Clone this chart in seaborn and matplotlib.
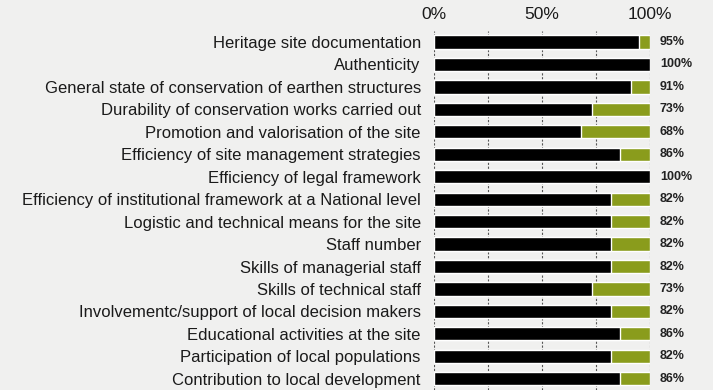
import matplotlib
matplotlib.use("Agg")
import matplotlib.pyplot as plt
import seaborn as sns
import pandas as pd

categories = [
    "Heritage site documentation",
    "Authenticity",
    "General state of conservation of earthen structures",
    "Durability of conservation works carried out",
    "Promotion and valorisation of the site",
    "Efficiency of site management strategies",
    "Efficiency of legal framework",
    "Efficiency of institutional framework at a National level",
    "Logistic and technical means for the site",
    "Staff number",
    "Skills of managerial staff",
    "Skills of technical staff",
    "Involvementc/support of local decision makers",
    "Educational activities at the site",
    "Participation of local populations",
    "Contribution to local development",
]
positive = [95, 100, 91, 73, 68, 86, 100, 82, 82, 82, 82, 73, 82, 86, 82, 86]
total = [100] * len(categories)
tick_values = [0, 50, 100]
tick_labels = ["0%", "50%", "100%"]

bg = "#f0f0ef"
green = "#8a9c1c"

sns.set_theme(style="white")
plt.rcParams["font.family"] = ["Liberation Sans", "DejaVu Sans"]

df = pd.DataFrame({"category": categories, "positive": positive, "total": total})

fig = plt.figure(figsize=(7.13, 3.90), dpi=100, facecolor=bg)
ax = fig.add_axes([0.6087, 0.0, 0.3030, 0.921])
ax.set_facecolor(bg)

sns.barplot(data=df, x="total", y="category", orient="h", color=green,
            width=0.59, ax=ax, saturation=1)
sns.barplot(data=df, x="positive", y="category", orient="h", color="black",
            width=0.59, ax=ax, saturation=1)

ax.set_xlim(0, 100)
ax.set_ylim(len(categories) - 0.5, -0.5)
for gx in [0, 25, 50, 75, 100]:
    ax.axvline(gx, color="#555555", lw=0.8, ls=(0, (2, 1.5)), zorder=0)

ax.xaxis.tick_top()
ax.set_xticks(tick_values)
ax.set_xticklabels(tick_labels, fontsize=12.5, color="#1a1a1a")
ax.tick_params(axis="x", length=0, pad=6)
ax.tick_params(axis="y", length=0, pad=9.5)
ax.set_yticklabels(categories, fontsize=12, color="#1a1a1a")
ax.set_xlabel("")
ax.set_ylabel("")
for s in ax.spines.values():
    s.set_visible(False)

for i, v in enumerate(positive):
    ax.text(104.5, i, f"{v}%", va="center", ha="left", fontsize=9,
            fontweight="bold", color="#222222")

fig.savefig("out.png", dpi=100, facecolor=bg)
